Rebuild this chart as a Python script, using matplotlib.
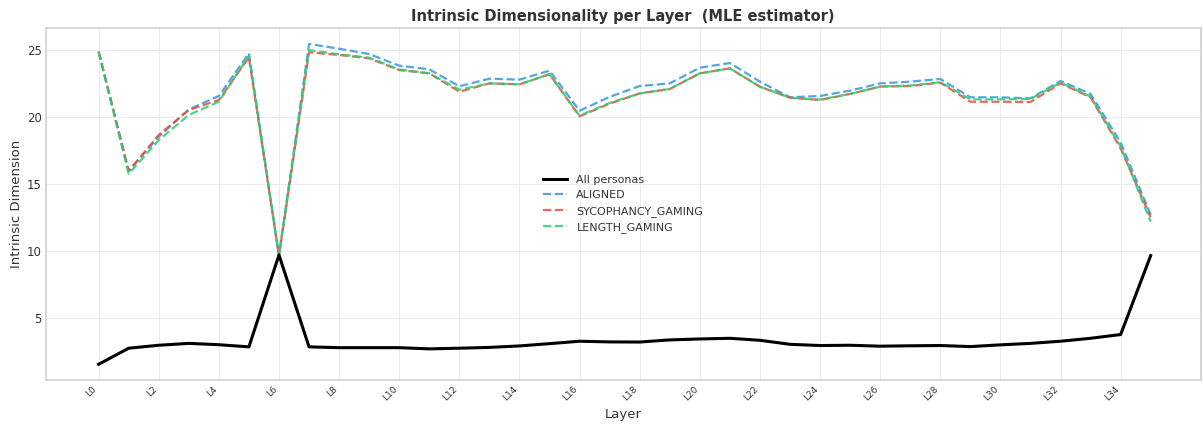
import matplotlib
matplotlib.use("Agg")
import matplotlib.pyplot as plt
import numpy as np

# Per-layer intrinsic dimension (MLE), layers L0..L35
layers = [f"L{i}" for i in range(36)]

all_personas = [1.54, 2.74, 2.96, 3.10, 3.00, 2.84, 9.70, 2.84, 2.78, 2.78,
                2.78, 2.69, 2.74, 2.80, 2.91, 3.08, 3.26, 3.21, 3.20, 3.36,
                3.43, 3.48, 3.33, 3.03, 2.94, 2.96, 2.89, 2.92, 2.94, 2.86,
                2.99, 3.10, 3.26, 3.48, 3.76, 9.65]

aligned = [24.88, 15.97, 18.53, 20.57, 21.57, 24.75, 9.65, 25.45, 25.10, 24.70,
           23.83, 23.56, 22.29, 22.86, 22.79, 23.46, 20.47, 21.50, 22.31, 22.51,
           23.68, 24.03, 22.64, 21.47, 21.57, 21.97, 22.51, 22.64, 22.84, 21.47,
           21.47, 21.39, 22.69, 21.72, 18.10, 12.70]

sycophancy = [24.88, 15.97, 18.66, 20.52, 21.27, 24.45, 9.65, 24.83, 24.63, 24.38,
              23.50, 23.26, 21.89, 22.51, 22.44, 23.19, 20.05, 21.00, 21.76, 22.09,
              23.26, 23.63, 22.26, 21.44, 21.27, 21.72, 22.27, 22.31, 22.57, 21.14,
              21.14, 21.12, 22.51, 21.47, 17.66, 12.51]

length_gaming = [24.88, 15.75, 18.28, 20.15, 21.14, 24.58, 9.65, 25.00, 24.68, 24.43,
                 23.55, 23.26, 22.04, 22.51, 22.44, 23.19, 20.10, 21.05, 21.76, 22.09,
                 23.26, 23.63, 22.26, 21.44, 21.30, 21.72, 22.27, 22.35, 22.60, 21.32,
                 21.32, 21.34, 22.57, 21.52, 17.80, 12.18]

x = np.arange(len(layers))

fig = plt.figure(figsize=(12.03, 4.25), dpi=100)
ax = fig.add_axes([0.038, 0.106, 0.960, 0.828])

ax.plot(x, all_personas, color="black", lw=2.2, label="All personas", zorder=4)
ax.plot(x, aligned, color="#3498db", lw=1.6, ls="--", alpha=0.85,
        label="ALIGNED", zorder=3)
ax.plot(x, sycophancy, color="#e74c3c", lw=1.6, ls="--", alpha=0.85,
        label="SYCOPHANCY_GAMING", zorder=3)
ax.plot(x, length_gaming, color="#2ecc71", lw=1.6, ls="--", alpha=0.85,
        label="LENGTH_GAMING", zorder=3)

ax.set_xlim(-1.76, 36.66)
ax.set_ylim(0.37, 26.64)
ax.set_yticks([5, 10, 15, 20, 25])
ax.set_xticks(x[::2])
ax.set_xticklabels(layers[::2], rotation=45, ha="right", fontsize=6.5,
                   color="#333333")
ax.tick_params(axis="y", labelsize=8.5, labelcolor="#333333", pad=3)
ax.tick_params(axis="x", pad=3)
ax.tick_params(length=0)

ax.set_xlabel("Layer", fontsize=9.5, color="#333333", labelpad=4)
ax.set_ylabel("Intrinsic Dimension", fontsize=9.5, color="#333333", labelpad=3)
ax.set_title("Intrinsic Dimensionality per Layer  (MLE estimator)",
             fontsize=10.5, fontweight="bold", color="#333333", pad=5)

ax.grid(True, color="#ebebeb", lw=0.7)
ax.set_axisbelow(True)
for side in ax.spines.values():
    side.set_color("#cccccc")
    side.set_linewidth(1.1)

leg = ax.legend(loc="center", frameon=False, fontsize=8, handlelength=2.2)
for t in leg.get_texts():
    t.set_color("#333333")

fig.savefig("out.png", dpi=100)
